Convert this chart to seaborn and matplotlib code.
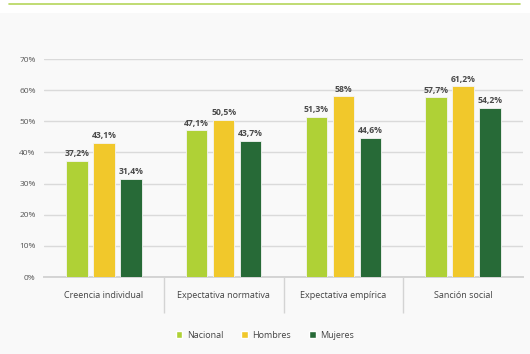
import pandas as pd
import matplotlib.pyplot as plt
import seaborn as sns
from matplotlib.lines import Line2D
from matplotlib.patches import Rectangle

# Data
categories = ['Creencia individual', 'Expectativa normativa', 'Expectativa empírica', 'Sanción social']
groups = ['Nacional', 'Hombres', 'Mujeres']
nacional = [37.2, 47.1, 51.3, 57.7]
hombres = [43.1, 50.5, 58.0, 61.2]
mujeres = [31.4, 43.7, 44.6, 54.2]
y_ticks = [0, 10, 20, 30, 40, 50, 60, 70]

colors = ['#afd136', '#f1c82b', '#276a37']

df = pd.DataFrame({
    'categoria': categories * 3,
    'grupo': [g for g in groups for _ in categories],
    'valor': nacional + hombres + mujeres,
})

sns.set_style('white')
plt.rcParams['font.family'] = ['Open Sans', 'DejaVu Sans']

fig = plt.figure(figsize=(5.3, 3.54), dpi=100)
fig.patch.set_facecolor('white')
# light grey panel and green rule at the top
fig.add_artist(Rectangle((0, 0), 1, 0.962, transform=fig.transFigure,
                         facecolor='#f9f9f9', edgecolor='none', zorder=-10))
fig.add_artist(Line2D([9 / 530, 520 / 530], [0.988, 0.988], transform=fig.transFigure,
                      color='#b5d55a', lw=1.2))

ax = fig.add_axes([44 / 530, 77 / 354, (523 - 44) / 530, (277 - 59) / 354])
ax.set_facecolor('none')

sns.barplot(data=df, x='categoria', y='valor', hue='grupo', order=categories,
            hue_order=groups, palette=colors, saturation=1, width=0.675, gap=0.2,
            edgecolor='#f4f4f4', linewidth=0.6, ax=ax, legend=False, zorder=3)

for cont in ax.containers:
    labels = [f'{b.get_height():g}'.replace('.', ',') + '%' for b in cont]
    ax.bar_label(cont, labels=labels, padding=2, fontsize=6.2,
                 fontweight='bold', color='#4a4a4a')

ax.set_xlim(-0.5, 3.5)
ax.set_ylim(0, 70)
ax.set_yticks(y_ticks)
ax.set_yticklabels([f'{t}%' for t in y_ticks])
ax.yaxis.grid(True, color='#dadada', lw=1.0, zorder=0)
ax.set_axisbelow(True)
for s in ['top', 'right', 'left']:
    ax.spines[s].set_visible(False)
ax.spines['bottom'].set_color('#d4d4d4')
ax.spines['bottom'].set_linewidth(1.4)

ax.tick_params(axis='y', length=0, pad=6, labelsize=6, labelcolor='#555555')
ax.tick_params(axis='x', which='major', length=0, pad=10, labelsize=6.5,
               labelcolor='#444444')
ax.set_xticks([0.5, 1.5, 2.5], minor=True)
# category separators drawn as long minor ticks
ax.tick_params(axis='x', which='minor', bottom=True, length=26, width=1.0,
               color='#d4d4d4')
ax.set_xlabel('')
ax.set_ylabel('')

handles = [Rectangle((0, 0), 1, 1, facecolor=c) for c in colors]
fig.legend(handles, groups, loc='center', bbox_to_anchor=(0.5, 19 / 354), ncol=3,
           frameon=False, fontsize=6.5, handlelength=0.75, handleheight=0.75,
           handletextpad=0.5, columnspacing=2.0, labelcolor='#444444')

fig.savefig('out.png', dpi=100)
